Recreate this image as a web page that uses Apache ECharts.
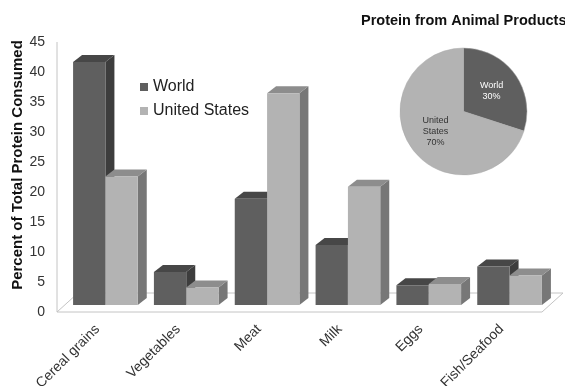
<!DOCTYPE html>
<html>
<head>
<meta charset="utf-8">
<script src="https://cdn.jsdelivr.net/npm/echarts@6/dist/echarts.min.js"></script>
<style>
  html, body { margin: 0; padding: 0; background: #fff; }
  #chart { width: 565px; height: 386px; }
</style>
</head>
<body>
<div id="chart"></div>
<script>
// Share of total dietary protein by food source (%)
const categories = ['Cereal grains', 'Vegetables', 'Meat', 'Milk', 'Eggs', 'Fish/Seafood'];
const worldValues = [40.5, 5.5, 17.7, 10.0, 3.3, 6.4];
const usValues = [21.4, 2.9, 35.3, 19.7, 3.5, 4.9];
const yTicks = { min: 0, max: 45, step: 5 };

// Share of protein coming from animal products
const pieNames = ['World', 'United States'];
const pieValues = [30, 70];

const FONT = '"Liberation Sans", Arial, sans-serif';

// Oblique 3D look: bars sit a little behind the front edge of the floor
const PLANE = { dx: 8, dy: -7 };     // front plane of the bars
const DEPTH = { dx: 9, dy: -7 };     // depth of each bar
const FLOOR = { dx: 21, dy: -19 };   // depth of the floor

const palette = {
  World: { front: '#5f5f5f', top: '#474747', side: '#3d3d3d' },
  'United States': { front: '#b3b3b3', top: '#8d8d8d', side: '#777777' }
};

function barRenderer(colors, leftSide) {
  return function (params, api) {
    const i = api.value(0);
    const v = api.value(1);
    const base = api.coord([i, 0]);
    const top = api.coord([i, v]);
    const band = api.size([1, 0])[0];
    const w = band * 0.4;
    const x0 = (leftSide ? base[0] - w : base[0]) + PLANE.dx;
    const x1 = x0 + w;
    const yB = base[1] + PLANE.dy;
    const yT = top[1] + PLANE.dy;
    const dx = DEPTH.dx, dy = DEPTH.dy;
    return {
      type: 'group',
      children: [
        {
          type: 'polygon',
          shape: { points: [[x1, yT], [x1 + dx, yT + dy], [x1 + dx, yB + dy], [x1, yB]] },
          style: { fill: colors.side }
        },
        {
          type: 'polygon',
          shape: { points: [[x0, yT], [x1, yT], [x1 + dx, yT + dy], [x0 + dx, yT + dy]] },
          style: { fill: colors.top }
        },
        {
          type: 'rect',
          shape: { x: x0, y: yT, width: w, height: yB - yT },
          style: { fill: colors.front }
        }
      ]
    };
  };
}

function floorRenderer(params) {
  const cs = params.coordSys;
  const xl = cs.x, xr = cs.x + cs.width;
  const yt = cs.y, yb = cs.y + cs.height;
  return {
    type: 'group',
    children: [
      {
        type: 'polygon',
        shape: { points: [[xl, yb], [xr, yb], [xr + FLOOR.dx, yb + FLOOR.dy], [xl + FLOOR.dx, yb + FLOOR.dy]] },
        style: { stroke: '#c4c4c4', lineWidth: 1, fill: '#ffffff' }
      },
      {
        type: 'line',
        shape: { x1: xl, y1: yt, x2: xl, y2: yb },
        style: { stroke: '#c4c4c4', lineWidth: 1, fill: null }
      }
    ]
  };
}

const chart = echarts.init(document.getElementById('chart'), null, { renderer: 'canvas' });

chart.setOption({
  animation: false,
  backgroundColor: '#ffffff',
  textStyle: { fontFamily: FONT },
  title: {
    text: 'Protein from Animal Products',
    left: 361,
    top: 13,
    padding: 0,
    textStyle: { fontFamily: FONT, fontSize: 14.5, fontWeight: 'bold', color: '#111' }
  },
  legend: {
    data: ['World', 'United States'],
    orient: 'vertical',
    left: 140,
    top: 79,
    padding: 0,
    itemWidth: 8,
    itemHeight: 8,
    itemGap: 8,
    icon: 'rect',
    textStyle: { fontFamily: FONT, fontSize: 16, lineHeight: 16, color: '#222' }
  },
  grid: { left: 57, right: 23, top: 42, bottom: 74, containLabel: false, outerBoundsMode: 'none' },
  xAxis: {
    type: 'category',
    data: categories,
    boundaryGap: true,
    axisLine: { show: false },
    axisTick: { show: false },
    axisLabel: {
      rotate: 45,
      margin: 15,
      fontFamily: FONT,
      fontSize: 14,
      color: '#333',
      interval: 0
    }
  },
  yAxis: {
    type: 'value',
    min: yTicks.min,
    max: yTicks.max,
    interval: yTicks.step,
    axisLine: { show: false },
    axisTick: { show: false },
    splitLine: { show: false },
    axisLabel: { margin: 12, fontFamily: FONT, fontSize: 14, color: '#333' }
  },
  graphic: [
    {
      type: 'text',
      x: 18,
      y: 165,
      rotation: Math.PI / 2,
      style: {
        text: 'Percent of Total Protein Consumed',
        font: 'bold 15px ' + FONT,
        fill: '#111',
        textAlign: 'center',
        textVerticalAlign: 'middle'
      }
    }
  ],
  series: [
    {
      name: 'floor',
      type: 'custom',
      silent: true,
      clip: false,
      z: 1,
      data: [[0, 0]],
      renderItem: floorRenderer
    },
    {
      name: 'World',
      type: 'custom',
      clip: false,
      z: 2,
      itemStyle: { color: palette.World.front },
      data: worldValues.map((v, i) => [i, v]),
      renderItem: barRenderer(palette.World, true)
    },
    {
      name: 'United States',
      type: 'custom',
      clip: false,
      z: 3,
      itemStyle: { color: palette['United States'].front },
      data: usValues.map((v, i) => [i, v]),
      renderItem: barRenderer(palette['United States'], false)
    },
    {
      name: 'Animal protein',
      type: 'pie',
      center: [463.5, 111.5],
      radius: 63.5,
      startAngle: 90,
      clockwise: true,
      z: 4,
      label: {
        position: 'inside',
        fontFamily: FONT,
        fontSize: 9,
        lineHeight: 11,
        formatter: p => p.name.replace(' ', '\n') + '\n' + p.value + '%'
      },
      labelLine: { show: false },
      itemStyle: { borderColor: '#a8a8a8', borderWidth: 0.5 },
      data: pieNames.map((n, i) => ({
        name: n,
        value: pieValues[i],
        itemStyle: { color: palette[n].front },
        label: { color: i === 0 ? '#ffffff' : '#333333' }
      }))
    }
  ]
});
</script>
</body>
</html>
